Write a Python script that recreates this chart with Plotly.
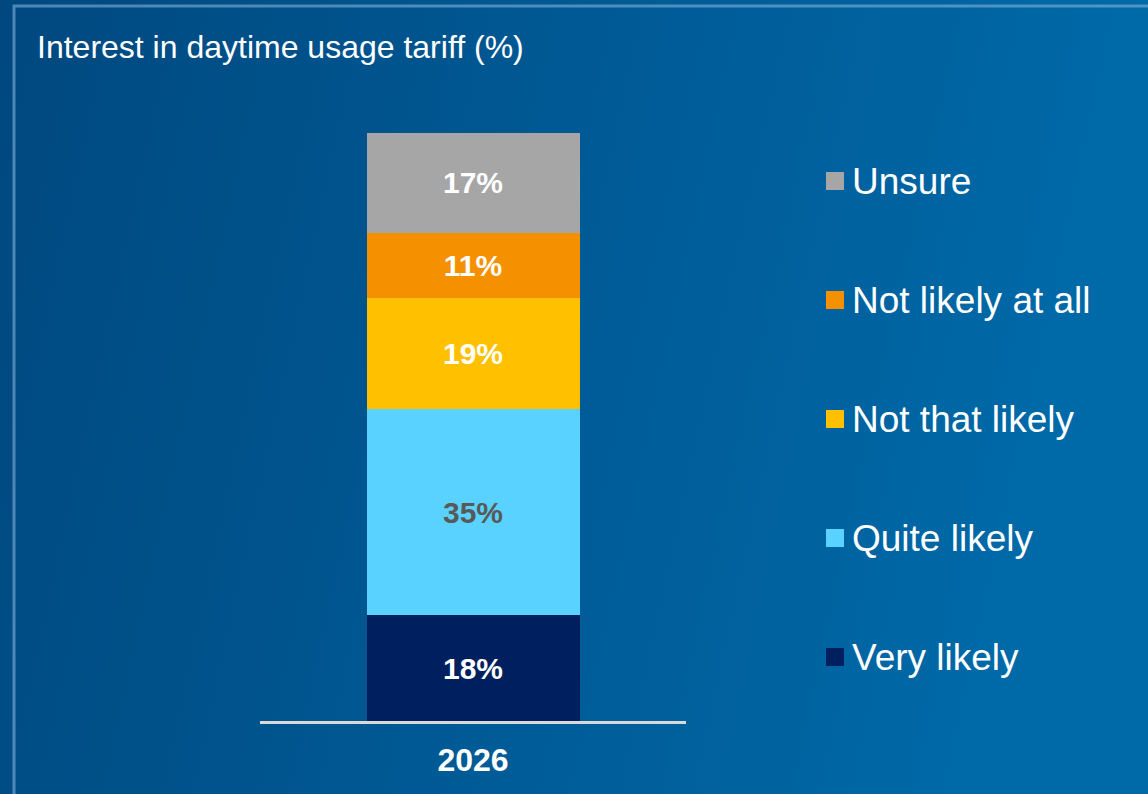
import base64
import plotly.graph_objects as go

# Survey result: interest in a daytime usage tariff
categories = ["2026"]
series_names = ["Very likely", "Quite likely", "Not that likely", "Not likely at all", "Unsure"]
very_likely = [18]
quite_likely = [35]
not_that_likely = [19]
not_likely_at_all = [11]
unsure = [17]
series_values = [very_likely, quite_likely, not_that_likely, not_likely_at_all, unsure]
series_colors = ["#001f5f", "#5ad2ff", "#ffc000", "#f59100", "#a6a6a6"]
label_colors = ["#ffffff", "#595959", "#ffffff", "#ffffff", "#ffffff"]
title_text = "Interest in daytime usage tariff (%)"

FONT = "Liberation Sans, Arial, sans-serif"
W, H = 1148, 794
L, R, T, B = 260, 462, 133, 73
PW, PH = W - L - R, H - T - B


def px_x(x):
    return (x - L) / PW


def px_y(y):
    return (H - B - y) / PH


fig = go.Figure()
for name, vals, col, lcol in zip(series_names, series_values, series_colors, label_colors):
    fig.add_trace(go.Bar(
        x=categories, y=vals, name=name, width=0.5,
        marker=dict(color=col, line=dict(width=0)),
        text=vals, texttemplate="%{y}%", textposition="inside",
        insidetextanchor="middle", textangle=0, constraintext="none",
        textfont=dict(color=lcol, size=30, family=FONT, weight="bold"),
        showlegend=False, hoverinfo="skip",
    ))

# gradient backdrop
svg = (
    f'<svg xmlns="http://www.w3.org/2000/svg" width="{W}" height="{H}" preserveAspectRatio="none">'
    '<defs><linearGradient id="g" x1="0" y1="0" x2="1" y2="0.15">'
    '<stop offset="0" stop-color="#00487f"/><stop offset="1" stop-color="#006aa9"/>'
    '</linearGradient></defs>'
    f'<rect width="{W}" height="{H}" fill="url(#g)"/></svg>'
)
bg_src = "data:image/svg+xml;base64," + base64.b64encode(svg.encode()).decode()

shapes = [
    # thin frame along top and left edges
    dict(type="rect", xref="paper", yref="paper",
         x0=px_x(14), y0=px_y(6), x1=px_x(W + 20), y1=px_y(H + 20),
         line=dict(color="rgba(140,185,225,0.55)", width=3), fillcolor="rgba(0,0,0,0)",
         layer="below"),
]
annotations = []

# legend, top entry = last stacked series
legend_top, legend_step = 181, 119
for k, idx in enumerate(reversed(range(len(series_names)))):
    yc = legend_top + k * legend_step
    shapes.append(dict(type="rect", xref="paper", yref="paper",
                       x0=px_x(826), x1=px_x(844), y0=px_y(yc + 9), y1=px_y(yc - 9),
                       fillcolor=series_colors[idx], line=dict(width=0)))
    annotations.append(dict(xref="paper", yref="paper", x=px_x(850), y=px_y(yc),
                            xanchor="left", yanchor="middle", showarrow=False,
                            text=series_names[idx],
                            font=dict(size=37, color="#ffffff", family=FONT)))

annotations.append(dict(xref="paper", yref="paper", x=px_x(35), y=px_y(47),
                        xanchor="left", yanchor="middle", showarrow=False,
                        text=title_text, font=dict(size=32, color="#ffffff", family=FONT)))

fig.update_layout(
    width=W, height=H,
    margin=dict(l=L, r=R, t=T, b=B, pad=0),
    barmode="stack",
    paper_bgcolor="#00548f",
    plot_bgcolor="rgba(0,0,0,0)",
    images=[dict(source=bg_src, xref="paper", yref="paper",
                 x=px_x(0), y=px_y(0), sizex=W / PW, sizey=H / PH,
                 xanchor="left", yanchor="top", sizing="stretch", layer="below")],
    shapes=shapes,
    annotations=annotations,
    xaxis=dict(range=[-0.5, 0.5], showline=True, linecolor="#d9d9d9", linewidth=2.5,
               ticks="", showgrid=False, zeroline=False, fixedrange=True,
               ticklabelstandoff=9,
               tickfont=dict(size=32, color="#ffffff", family=FONT, weight="bold")),
    yaxis=dict(range=[0, 100], visible=False, showgrid=False, fixedrange=True),
    font=dict(family=FONT),
)

fig.write_html("out.html")
